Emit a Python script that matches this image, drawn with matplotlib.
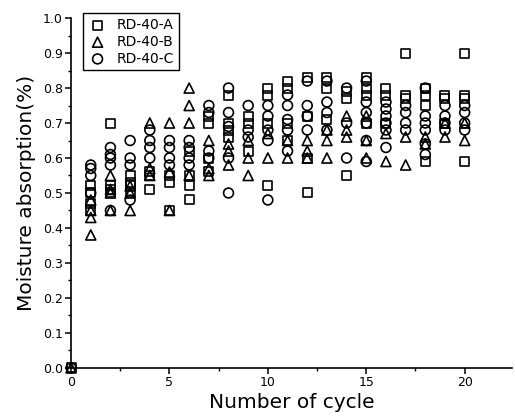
import matplotlib
matplotlib.use("Agg")
import matplotlib.pyplot as plt
from matplotlib.ticker import MultipleLocator

# ---- data ----
cycle_A = [0, 1, 1, 1, 1, 2, 2, 2, 2, 3, 3, 3, 3, 4, 4, 4, 5, 5, 5, 6, 6, 6, 6,
           7, 7, 7, 7, 8, 8, 8, 8, 9, 9, 9, 10, 10, 10, 10, 11, 11, 11, 11,
           12, 12, 12, 12, 13, 13, 13, 14, 14, 14, 15, 15, 15, 15, 16, 16, 16,
           17, 17, 17, 18, 18, 18, 18, 19, 19, 19, 20, 20, 20, 20]
moist_A = [0.00, 0.45, 0.47, 0.50, 0.52, 0.70, 0.52, 0.51, 0.50, 0.55, 0.53, 0.52, 0.50,
           0.56, 0.55, 0.51, 0.55, 0.53, 0.45, 0.62, 0.55, 0.52, 0.48,
           0.72, 0.70, 0.60, 0.56, 0.78, 0.70, 0.68, 0.66, 0.72, 0.70, 0.62,
           0.80, 0.78, 0.70, 0.52, 0.82, 0.80, 0.70, 0.65,
           0.83, 0.72, 0.60, 0.50, 0.83, 0.80, 0.71, 0.79, 0.77, 0.55,
           0.83, 0.80, 0.78, 0.70, 0.80, 0.78, 0.70,
           0.90, 0.78, 0.77, 0.80, 0.78, 0.75, 0.59, 0.78, 0.77, 0.70,
           0.90, 0.78, 0.77, 0.59]

cycle_B = [0, 1, 1, 1, 1, 2, 2, 2, 2, 3, 3, 3, 4, 4, 4, 5, 5, 5, 6, 6, 6, 6,
           7, 7, 7, 8, 8, 8, 9, 9, 9, 10, 10, 11, 11, 12, 12, 12, 13, 13, 13,
           14, 14, 14, 15, 15, 15, 16, 16, 17, 17, 18, 18, 19, 19, 20, 20]
moist_B = [0.00, 0.38, 0.43, 0.45, 0.48, 0.55, 0.51, 0.50, 0.45, 0.52, 0.50, 0.45,
           0.70, 0.57, 0.55, 0.70, 0.56, 0.45, 0.80, 0.75, 0.70, 0.55,
           0.65, 0.57, 0.55, 0.64, 0.62, 0.58, 0.65, 0.60, 0.55, 0.67, 0.60,
           0.65, 0.60, 0.65, 0.62, 0.60, 0.68, 0.65, 0.60,
           0.72, 0.68, 0.66, 0.72, 0.65, 0.60, 0.67, 0.59, 0.66, 0.58,
           0.66, 0.64, 0.66, 0.70, 0.70, 0.65]

cycle_C = [0, 1, 1, 1, 1, 2, 2, 2, 2, 2, 3, 3, 3, 3, 4, 4, 4, 4, 5, 5, 5, 5,
           6, 6, 6, 6, 7, 7, 7, 7, 8, 8, 8, 8, 8, 9, 9, 9, 10, 10, 10, 10, 10,
           11, 11, 11, 11, 11, 12, 12, 12, 12, 13, 13, 13, 13, 14, 14, 14,
           15, 15, 15, 15, 15, 15, 16, 16, 16, 16, 16, 16, 17, 17, 17, 17,
           18, 18, 18, 18, 18, 18, 19, 19, 19, 19, 20, 20, 20, 20]
moist_C = [0.00, 0.58, 0.57, 0.55, 0.50, 0.63, 0.61, 0.60, 0.58, 0.45,
           0.65, 0.60, 0.58, 0.48, 0.68, 0.65, 0.63, 0.60, 0.65, 0.63, 0.60, 0.58,
           0.65, 0.63, 0.60, 0.58, 0.75, 0.73, 0.62, 0.60,
           0.80, 0.73, 0.69, 0.60, 0.50, 0.75, 0.68, 0.66,
           0.75, 0.72, 0.68, 0.65, 0.48, 0.78, 0.75, 0.71, 0.68, 0.62,
           0.82, 0.75, 0.72, 0.68, 0.82, 0.76, 0.73, 0.68, 0.80, 0.70, 0.60,
           0.82, 0.76, 0.73, 0.70, 0.65, 0.59, 0.76, 0.74, 0.72, 0.70, 0.68, 0.63,
           0.75, 0.73, 0.70, 0.68, 0.80, 0.72, 0.70, 0.68, 0.64, 0.61,
           0.75, 0.72, 0.70, 0.68, 0.75, 0.73, 0.70, 0.68]

series_labels = ["RD-40-A", "RD-40-B", "RD-40-C"]
x_ticks = [0, 5, 10, 15, 20]
y_ticks = [0.0, 0.1, 0.2, 0.3, 0.4, 0.5, 0.6, 0.7, 0.8, 0.9, 1.0]

# ---- figure ----
fig = plt.figure(figsize=(5.15, 4.2), dpi=100)
ax = fig.add_axes([0.138, 0.124, 0.856, 0.833])

font = "DejaVu Sans"

style = dict(facecolors="none", edgecolors="black", linewidths=1.2, s=42, clip_on=False, zorder=3)
ax.scatter(cycle_A, moist_A, marker="s", label=series_labels[0], **style)
ax.scatter(cycle_B, moist_B, marker="^", label=series_labels[1], **{**style, "s": 52})
ax.scatter(cycle_C, moist_C, marker="o", label=series_labels[2], **{**style, "s": 50})

ax.set_xlim(0, 22.4)
ax.set_ylim(0, 1.0)
ax.set_xticks(x_ticks)
ax.set_yticks(y_ticks)
ax.set_yticklabels([f"{v:.1f}" for v in y_ticks])
ax.xaxis.set_minor_locator(MultipleLocator(2.5))
ax.yaxis.set_minor_locator(MultipleLocator(0.05))

for s in ["top", "right"]:
    ax.spines[s].set_visible(False)
for s in ["left", "bottom"]:
    ax.spines[s].set_linewidth(1.2)

ax.tick_params(which="major", direction="out", length=4, width=1.1, labelsize=9, pad=2)
ax.tick_params(which="minor", direction="out", length=2.5, width=1.0)
for lab in ax.get_xticklabels() + ax.get_yticklabels():
    lab.set_family(font)

ax.set_xlabel("Number of cycle", fontsize=14.5, family=font, labelpad=3)
ax.set_ylabel("Moisture absorption(%)", fontsize=14.5, family=font, labelpad=5)

leg = ax.legend(loc="upper left", bbox_to_anchor=(0.027, 1.014), frameon=True, fancybox=False,
                edgecolor="black", framealpha=1, prop={"family": font, "size": 10},
                handletextpad=0.7, borderpad=0.35, labelspacing=0.2, handlelength=1.4,
                borderaxespad=0.0)
leg.get_frame().set_linewidth(1.0)

fig.savefig("out.png", dpi=100)
